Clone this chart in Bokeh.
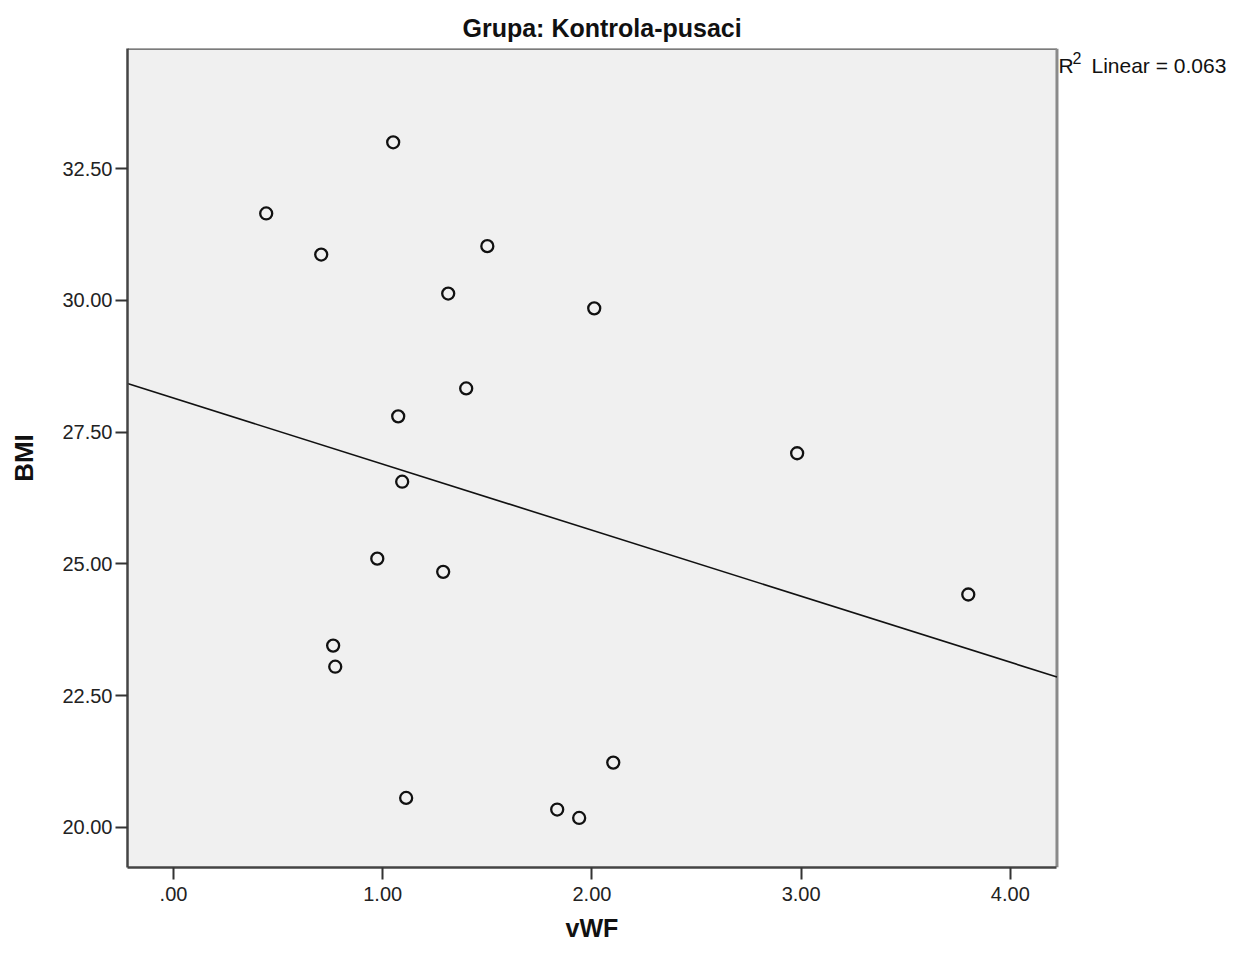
import numpy as np
from bokeh.plotting import figure
from bokeh.models import FixedTicker, Range1d, Title
from bokeh.core.properties import value
from bokeh.embed import file_html
from bokeh.resources import INLINE

# Data
vwf = [0.443, 1.050, 0.706, 1.500, 1.313, 2.011, 1.399, 1.074, 2.981, 1.093,
       0.974, 1.289, 3.799, 0.763, 0.773, 2.102, 1.112, 1.834, 1.939]
bmi = [31.65, 33.00, 30.87, 31.03, 30.13, 29.85, 28.33, 27.80, 27.10, 26.56,
       25.10, 24.85, 24.42, 23.45, 23.05, 21.23, 20.56, 20.34, 20.18]

x_ticks = [0, 1, 2, 3, 4]
x_tick_labels = [".00", "1.00", "2.00", "3.00", "4.00"]
y_ticks = [20, 22.5, 25, 27.5, 30, 32.5]
y_tick_labels = ["20.00", "22.50", "25.00", "27.50", "30.00", "32.50"]

title_text = "Grupa: Kontrola-pusaci"
x_label = "vWF"
y_label = "BMI"
r2_text = "Linear = 0.063"

FONT = "Liberation Sans"

W, H = 1233, 955
LEFT, TOP, BOTTOM = 127, 48, 867
SX = 209.2                     # px per vWF unit
x0, x1 = -0.22, 4.223          # plot box extent (data)
y0, y1 = 19.24, 34.78
x_end = x0 + (W - LEFT) / SX   # frame reaches the right edge so the R² note can sit there

p = figure(width=W, height=H, output_backend="svg", toolbar_location=None,
           x_range=Range1d(x0, x_end), y_range=Range1d(y0, y1),
           min_border_left=LEFT, min_border_right=0,
           min_border_top=TOP, min_border_bottom=H - BOTTOM)
p.background_fill_color = "white"
p.border_fill_color = "white"
p.outline_line_color = None
p.grid.visible = False

# Title
p.title.text = title_text
p.title.align = "left"
p.title.offset = 462 - LEFT
p.title.standoff = 14
p.title.text_font = FONT
p.title.text_font_size = "25px"
p.title.text_font_style = "bold"
p.title.text_color = "#111111"

# Plot box
p.quad(left=[x0], right=[x1], bottom=[y0], top=[y1], fill_color="#F0F0F0", line_color=None)
p.segment(x0=[x0], y0=[y1], x1=[x1], y1=[y1], line_color="#555555", line_width=2.5)
p.segment(x0=[x1], y0=[y0], x1=[x1], y1=[y1], line_color="#8a8a8a", line_width=3)

for ax, ticks, labels in ((p.xaxis, x_ticks, x_tick_labels), (p.yaxis, y_ticks, y_tick_labels)):
    ax.ticker = FixedTicker(ticks=ticks)
    ax.major_label_overrides = {t: l for t, l in zip(ticks, labels)}
    ax.minor_tick_line_color = None
    ax.major_tick_in = 0
    ax.major_tick_out = 12
    ax.major_tick_line_color = "#333333"
    ax.major_tick_line_width = 2
    ax.axis_line_color = "#444444"
    ax.axis_line_width = 2.5
    ax.major_label_text_font = FONT
    ax.major_label_text_font_size = "20px"
    ax.major_label_text_color = "#222222"
    ax.axis_label_text_font = FONT
    ax.axis_label_text_font_style = "bold"
    ax.axis_label_text_color = "#111111"
p.xaxis.bounds = (x0, x1)
p.yaxis.bounds = (y0, y1)
p.xaxis.major_label_standoff = 7
p.yaxis.major_label_standoff = 3
p.yaxis.axis_label = y_label
p.yaxis.axis_label_text_font_size = "26px"
p.yaxis.axis_label_standoff = 20

# x-axis label, centred under the plot box
p.add_layout(Title(text=x_label, align="left", offset=592 - LEFT - 27, standoff=16,
                   text_font=FONT, text_font_size="25px", text_font_style="bold",
                   text_color="#111111"), "below")

# Points
p.scatter(vwf, bmi, marker="circle", size=12, fill_color=None,
          line_color="#111111", line_width=2.3)

# Linear fit
slope, intercept = np.polyfit(np.array(vwf), np.array(bmi), 1)
xs = [x0, x1]
ys = [intercept + slope * v for v in xs]
p.line(xs, ys, line_color="#111111", line_width=1.6)

# R^2 annotation
SY = 819 / (y1 - y0)
rx = x1 + 1.5 / SX
ry = y1 - 17 / SY
p.text(x=[rx], y=[ry], text=["R"], text_align="left", text_baseline="alphabetic",
       text_font=value(FONT), text_font_size="21px", text_color="#111111")
p.text(x=[rx + 14 / SX], y=[ry + 8 / SY], text=["2"], text_align="left",
       text_baseline="alphabetic", text_font=value(FONT), text_font_size="16px",
       text_color="#111111")
p.text(x=[rx + 33 / SX], y=[ry], text=[r2_text], text_align="left",
       text_baseline="alphabetic", text_font=value(FONT), text_font_size="21px",
       text_color="#111111")

open("out.html", "w").write(file_html(p, INLINE))
